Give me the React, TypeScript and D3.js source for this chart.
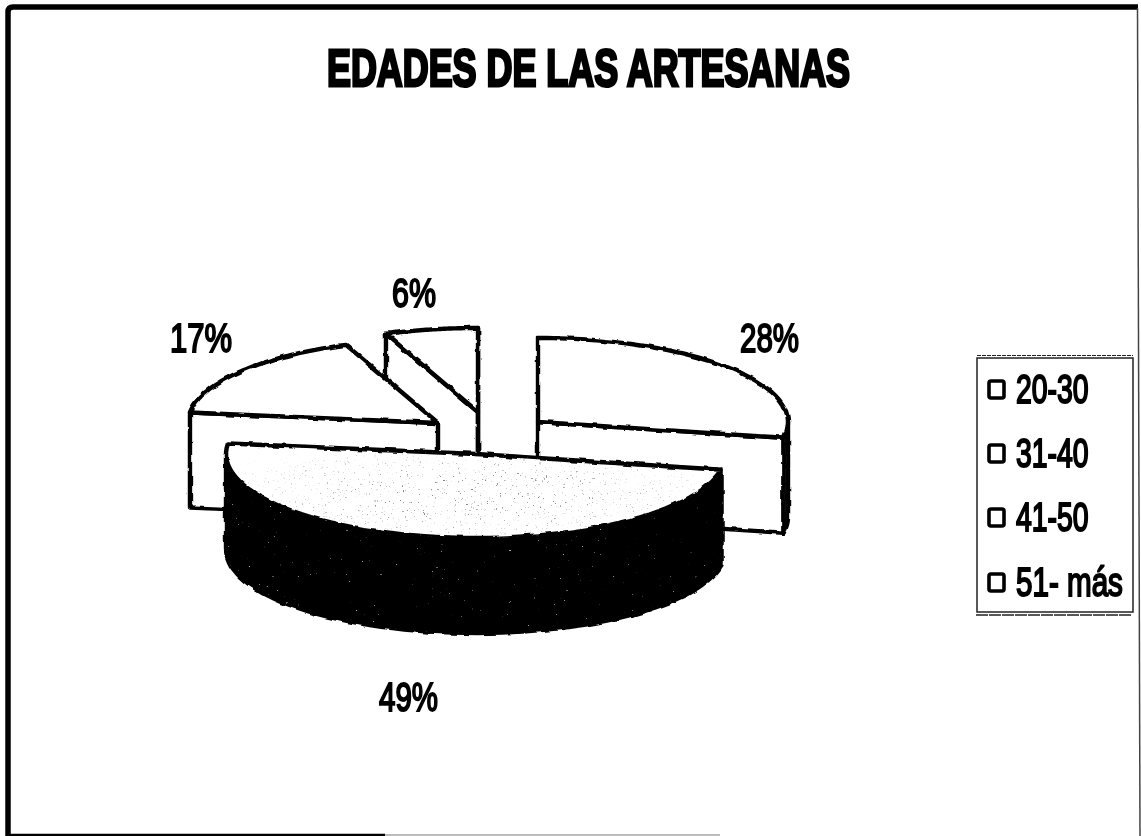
import React from "react";
import * as d3 from "d3";

const W = 1141;
const H = 836;

const titleText = "EDADES DE LAS ARTESANAS";
const categories = ["20-30", "31-40", "41-50", "51- más"];
const shares = [28, 49, 17, 6];
const shareLabels = ["28%", "49%", "17%", "6%"];

// layout only: the exploded apex of each slice, and where its label sits
const apexX = [538, 476, 438, 478];
const apexY = [422, 454, 423, 412];
const labelX = [740, 379, 170, 392];
const labelY = [352, 711, 352, 307];
const labelW = [59, 59, 62, 44];
const legendSqueeze = [0.71, 0.71, 0.71, 0.74];
const legendRowY = [389, 453, 517, 582];
const drawOrder = [3, 2, 0, 1];

const RX = 250;
const RY = 84;
const DEPTH = 95;
const FONT = "'Liberation Sans', Arial, sans-serif";

const arcs = d3.pie<number>().sort(null).value((d) => d)(shares);

function rim(i: number, a: number, drop = 0): [number, number] {
  return [apexX[i] + RX * Math.sin(a), apexY[i] - RY * Math.cos(a) + drop];
}

const line = d3.line();

function topFace(i: number) {
  const { startAngle: a0, endAngle: a1 } = arcs[i];
  const steps = d3.range(0, 61).map((k) => rim(i, a0 + ((a1 - a0) * k) / 60));
  return line([[apexX[i], apexY[i]], ...steps]) + "Z";
}

function cutFace(i: number, a: number) {
  return (
    line([
      [apexX[i], apexY[i]],
      rim(i, a),
      rim(i, a, DEPTH),
      [apexX[i], apexY[i] + DEPTH],
    ]) + "Z"
  );
}

function outerWall(i: number) {
  const a0 = Math.max(arcs[i].startAngle, Math.PI / 2);
  const a1 = Math.min(arcs[i].endAngle, (3 * Math.PI) / 2);
  if (a1 <= a0) return null;
  const angles = d3.range(0, 61).map((k) => a0 + ((a1 - a0) * k) / 60);
  return (
    line([
      ...angles.map((a) => rim(i, a)),
      ...angles.slice().reverse().map((a) => rim(i, a, DEPTH)),
    ]) + "Z"
  );
}

function Slice({ i }: { i: number }) {
  const { startAngle: a0, endAngle: a1 } = arcs[i];
  const dark = i === 1;
  const wall = outerWall(i);
  const strokeProps = {
    stroke: "#000",
    strokeWidth: 4.4,
    strokeLinejoin: "round" as const,
  };
  return (
    <g>
      {Math.sin(a0) < 0 && <path d={cutFace(i, a0)} fill="#fff" {...strokeProps} />}
      {Math.sin(a1) > 0 && <path d={cutFace(i, a1)} fill="#fff" {...strokeProps} />}
      {wall && (
        <path d={wall} fill={dark ? "#050505" : "#fff"} {...strokeProps} />
      )}
      {dark && wall && (
        <g clipPath="url(#wallClip)">
          <rect x={200} y={440} width={560} height={210} filter="url(#lightSpeck)" />
        </g>
      )}
      <path d={topFace(i)} fill="#fff" {...strokeProps} />
      {dark && (
        <g clipPath="url(#topClip)">
          <rect
            x={220}
            y={440}
            width={510}
            height={110}
            filter="url(#darkSpeck)"
            mask="url(#speckFade)"
          />
        </g>
      )}
    </g>
  );
}

export default function App() {
  const wall = outerWall(1) || "";
  return (
    <svg
      width={W}
      height={H}
      viewBox={`0 0 ${W} ${H}`}
      style={{ position: "absolute", left: 0, top: 0, display: "block", background: "#fff" }}
    >
      <defs>
        <filter id="rough" x="-5%" y="-5%" width="110%" height="110%">
          <feTurbulence type="fractalNoise" baseFrequency="0.09" numOctaves="2" seed="4" />
          <feDisplacementMap in="SourceGraphic" scale="3.5" xChannelSelector="R" yChannelSelector="G" />
        </filter>
        <filter id="roughText" x="-5%" y="-10%" width="110%" height="120%">
          <feTurbulence type="fractalNoise" baseFrequency="0.35" numOctaves="1" seed="9" />
          <feDisplacementMap in="SourceGraphic" scale="1.4" xChannelSelector="R" yChannelSelector="G" />
        </filter>
        <filter id="darkSpeck" x="0" y="0" width="100%" height="100%">
          <feTurbulence type="fractalNoise" baseFrequency="0.55" numOctaves="2" seed="7" />
          <feColorMatrix values="0 0 0 0 0.25  0 0 0 0 0.25  0 0 0 0 0.25  9 0 0 0 -6.1" />
        </filter>
        <filter id="lightSpeck" x="0" y="0" width="100%" height="100%">
          <feTurbulence type="fractalNoise" baseFrequency="0.5" numOctaves="2" seed="12" />
          <feColorMatrix values="0 0 0 0 0.55  0 0 0 0 0.55  0 0 0 0 0.55  10 0 0 0 -7.6" />
        </filter>
        <radialGradient id="fadeGrad" cx="0.5" cy="0.5" r="0.55">
          <stop offset="0.3" stopColor="#fff" />
          <stop offset="1" stopColor="#000" />
        </radialGradient>
        <mask id="speckFade" maskUnits="userSpaceOnUse" x={220} y={440} width={510} height={110}>
          <rect x={220} y={440} width={510} height={110} fill="url(#fadeGrad)" />
        </mask>
        <clipPath id="wallClip">
          <path d={wall} />
        </clipPath>
        <clipPath id="topClip">
          <path d={topFace(1)} />
        </clipPath>
      </defs>

      {/* scanned frame */}
      <g stroke="#000" fill="none">
        <path d="M8,836V12Q8,7 13,7H1138" strokeWidth={5.5} />
        <path d="M10,835H385" strokeWidth={2.5} />
        <path d="M385,835H720" strokeWidth={2} stroke="#bbb" />
        <path d="M1137.5,8L1140,836" strokeWidth={1.5} stroke="#444" />
      </g>

      <text
        x={327}
        y={86}
        textLength={523}
        lengthAdjust="spacingAndGlyphs"
        fontFamily={FONT}
        fontWeight={700}
        fontSize={52}
        stroke="#000"
        strokeWidth={3}
        filter="url(#roughText)"
      >
        {titleText}
      </text>

      <g filter="url(#rough)">
        {drawOrder.map((i) => (
          <Slice key={i} i={i} />
        ))}
      </g>

      {shareLabels.map((s, i) => (
        <text
          key={s}
          x={labelX[i]}
          y={labelY[i]}
          textLength={labelW[i]}
          lengthAdjust="spacingAndGlyphs"
          fontFamily={FONT}
          fontSize={41}
          stroke="#000"
          strokeWidth={2}
          filter="url(#roughText)"
        >
          {s}
        </text>
      ))}

      {/* legend */}
      <g fill="none" stroke="#222">
        <rect x={977} y={358} width={156} height={254} strokeWidth={1.5} />
        <path d="M977,355.5H1133" strokeWidth={1.2} strokeDasharray="4 1" />
        <path d="M976,615H1131" strokeWidth={1.4} strokeDasharray="12 1" />
      </g>
      {categories.map((c, i) => (
        <g key={c}>
          <rect
            x={989}
            y={legendRowY[i] - 8}
            width={15}
            height={17}
            rx={2}
            fill="#fff"
            stroke="#000"
            strokeWidth={3.6}
          />
          <text
            transform={`translate(1016,${legendRowY[i] + 14}) scale(${legendSqueeze[i]},1)`}
            fontFamily={FONT}
            fontSize={40}
            stroke="#000"
            strokeWidth={2}
            filter="url(#roughText)"
          >
            {c}
          </text>
        </g>
      ))}
    </svg>
  );
}
